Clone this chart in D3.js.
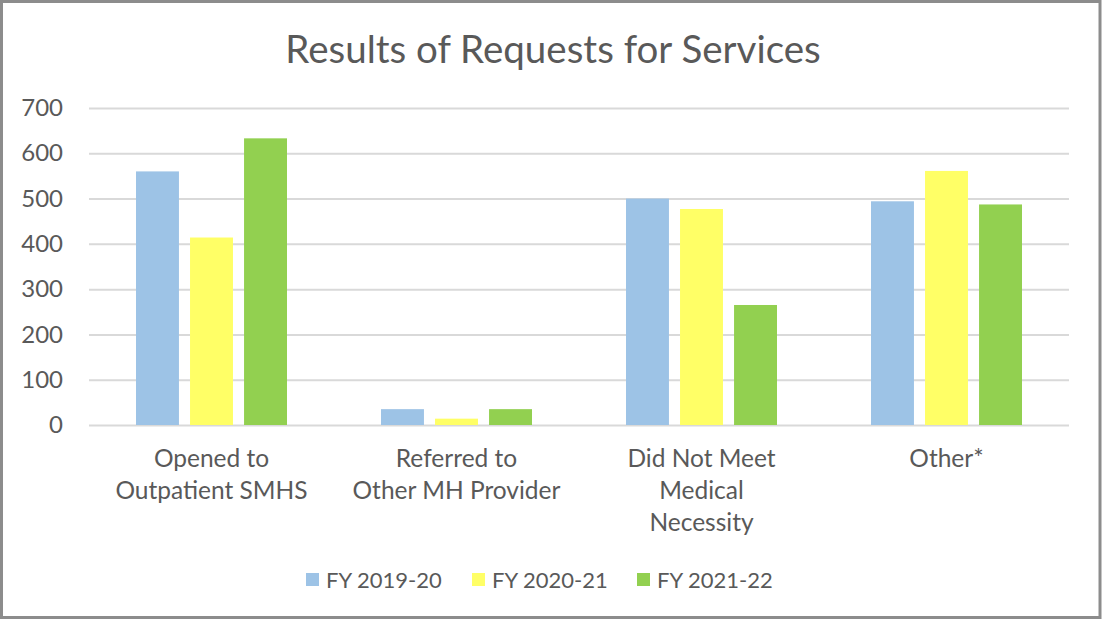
<!DOCTYPE html>
<html>
<head>
<meta charset="utf-8">
<script src="https://cdn.jsdelivr.net/npm/d3@7"></script>
<style>
  html, body { margin: 0; padding: 0; background: #fff; }
  svg { display: block; }
  text { font-family: Lato, "Open Sans", sans-serif; fill: #595959; }
</style>
</head>
<body>
<svg id="chart" width="1102" height="620"></svg>
<script>
const title = "Results of Requests for Services";
const categories = [
  ["Opened to", "Outpatient SMHS"],
  ["Referred to", "Other MH Provider"],
  ["Did Not Meet", "Medical", "Necessity"],
  ["Other*"]
];
const seriesNames = ["FY 2019-20", "FY 2020-21", "FY 2021-22"];
const seriesColors = ["#9DC3E6", "#FFFF66", "#92D050"];
const fy2019 = [560, 35, 500, 494];
const fy2020 = [414, 14, 477, 561];
const fy2021 = [633, 35, 265, 487];
const seriesValues = [fy2019, fy2020, fy2021];
const yTicks = [0, 100, 200, 300, 400, 500, 600, 700];

const svg = d3.select("#chart");
const W = 1102, H = 620;

// border
svg.append("rect").attr("x", 1.5).attr("y", 1.5).attr("width", 1098.5).attr("height", 616)
  .attr("fill", "#fff").attr("stroke", "#8c8c8c").attr("stroke-width", 3);

const plot = { left: 89, right: 1069, top: 108, bottom: 425 };
const catIdx = categories.map((d, i) => i);

const y = d3.scaleLinear().domain([0, 700]).range([plot.bottom, plot.top]);
const x0 = d3.scaleBand().domain(catIdx).range([plot.left, plot.right]).padding(0);
const x1 = d3.scaleBand().domain(seriesNames).range([0, x0.bandwidth()])
  .paddingInner(0.205).paddingOuter(0.87);

// title
svg.append("text").attr("x", W / 2 + 2).attr("y", 63).attr("text-anchor", "middle")
  .style("font-size", "38.5px").text(title);

// gridlines
const yAxis = d3.axisLeft(y).tickValues(yTicks).tickSize(-(plot.right - plot.left)).tickPadding(26);
const gy = svg.append("g").attr("transform", `translate(${plot.left},0)`).call(yAxis);
gy.select(".domain").remove();
gy.selectAll(".tick line").attr("stroke", "#d9d9d9").attr("stroke-width", 2);
gy.selectAll(".tick text").style("font-size", "24px").attr("fill", "#595959")
  .style("font-family", "Lato, sans-serif");

// bars
seriesNames.forEach((s, si) => {
  svg.append("g").selectAll("rect").data(seriesValues[si]).join("rect")
    .attr("x", (d, i) => x0(i) + x1(s))
    .attr("width", x1.bandwidth())
    .attr("y", d => y(d))
    .attr("height", d => y(0) - y(d))
    .attr("fill", seriesColors[si]);
});

// category labels
const lab = svg.append("g");
categories.forEach((lines, i) => {
  const t = lab.append("text").attr("text-anchor", "middle").style("font-size", "24.5px");
  lines.forEach((ln, j) => {
    t.append("tspan").attr("x", x0(i) + x0.bandwidth() / 2).attr("y", 467 + j * 32).text(ln);
  });
});

// legend
const legendX = [306, 472, 637];
seriesNames.forEach((s, si) => {
  svg.append("rect").attr("x", legendX[si]).attr("y", 573).attr("width", 13).attr("height", 13)
    .attr("fill", seriesColors[si]);
  svg.append("text").attr("x", legendX[si] + 20).attr("y", 588).style("font-size", "22px").text(s);
});
</script>
</body>
</html>
